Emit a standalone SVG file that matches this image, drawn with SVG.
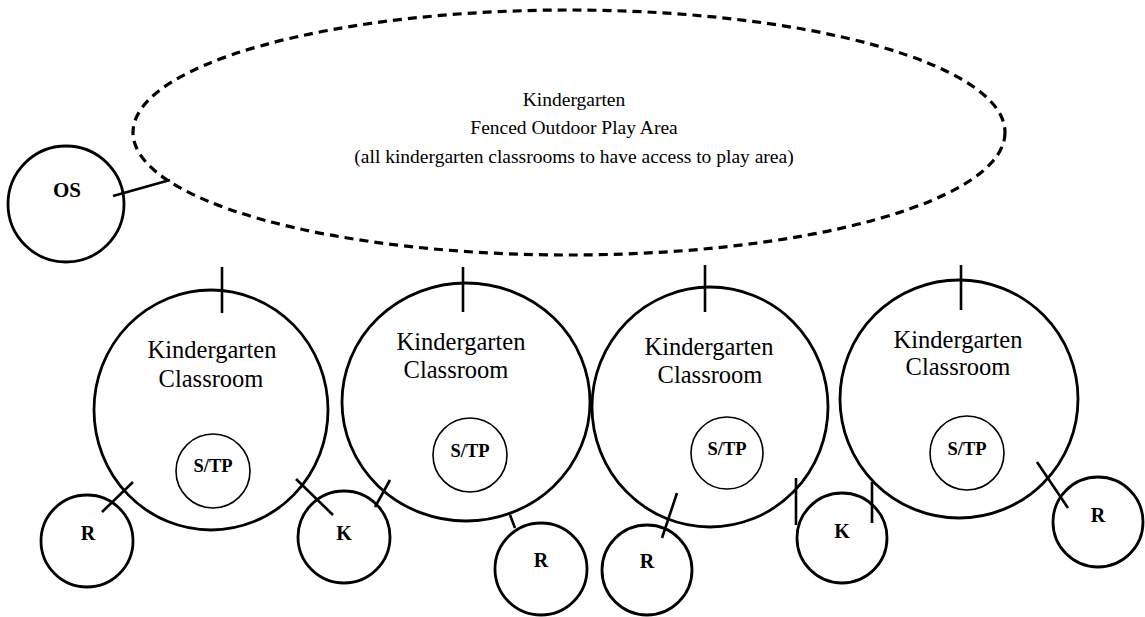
<svg xmlns="http://www.w3.org/2000/svg" width="1145" height="617" viewBox="0 0 1145 617">
<style>
.b{fill:none;stroke:#000;stroke-width:2.8}
.s{fill:none;stroke:#000;stroke-width:1.6}
.l{stroke:#000;stroke-width:2.6;fill:none}
.d{fill:none;stroke:#000;stroke-width:3.2;stroke-dasharray:9 6}
text{font-family:"Liberation Serif","Times New Roman",serif;fill:#000;text-anchor:middle}
.t{font-size:19.5px}
.c{font-size:24.5px}
.h{font-size:18.5px;font-weight:bold}
.k{font-size:20px;font-weight:bold}
.o{font-size:21px;font-weight:bold}
</style>
<rect width="1145" height="617" fill="#fff"/>
<g id="playarea">
<ellipse class="d" cx="569" cy="132.5" rx="436" ry="122.5"/>
<text class="t" x="574" y="106">Kindergarten</text>
<text class="t" x="574" y="134">Fenced Outdoor Play Area</text>
<text class="t" x="574" y="163">(all kindergarten classrooms to have access to play area)</text>
</g>
<g id="os"><circle class="b" cx="66" cy="204" r="58"/><text class="o" x="67" y="197">OS</text></g>
<g id="class1"><ellipse class="b" cx="211" cy="410" rx="117" ry="120"/><text class="c" x="212" y="358">Kindergarten</text><text class="c" x="211" y="387">Classroom</text></g>
<g id="stp1"><circle class="s" cx="213" cy="471" r="37"/><text class="h" x="213" y="472">S/TP</text></g>
<g id="class2"><ellipse class="b" cx="466" cy="402" rx="124" ry="119"/><text class="c" x="461" y="350">Kindergarten</text><text class="c" x="456" y="378">Classroom</text></g>
<g id="stp2"><circle class="s" cx="470" cy="455" r="37"/><text class="h" x="470" y="457">S/TP</text></g>
<g id="class3"><ellipse class="b" cx="710" cy="407" rx="118" ry="120"/><text class="c" x="709" y="355">Kindergarten</text><text class="c" x="710" y="383">Classroom</text></g>
<g id="stp3"><circle class="s" cx="727" cy="453" r="36"/><text class="h" x="727" y="455">S/TP</text></g>
<g id="class4"><ellipse class="b" cx="959" cy="399" rx="119" ry="119"/><text class="c" x="958" y="348">Kindergarten</text><text class="c" x="958" y="375">Classroom</text></g>
<g id="stp4"><circle class="s" cx="967" cy="453" r="37"/><text class="h" x="967" y="455">S/TP</text></g>
<g id="r1"><circle class="b" cx="87" cy="541" r="46"/><text class="k" x="88" y="540">R</text></g>
<g id="k1"><circle class="b" cx="344" cy="537" r="46"/><text class="k" x="344" y="540">K</text></g>
<g id="r2"><circle class="b" cx="541" cy="569" r="46"/><text class="k" x="541" y="567">R</text></g>
<g id="r3"><circle class="b" cx="647" cy="570" r="45"/><text class="k" x="647" y="568">R</text></g>
<g id="k2"><circle class="b" cx="842" cy="538" r="45"/><text class="k" x="842" y="538">K</text></g>
<g id="r4"><circle class="b" cx="1098" cy="522" r="45"/><text class="k" x="1098" y="522">R</text></g>
<g id="connectors">
<line class="l" x1="113" y1="196" x2="170" y2="180"/>
<line class="l" x1="222" y1="267" x2="222" y2="313"/>
<line class="l" x1="463" y1="267" x2="463" y2="312"/>
<line class="l" x1="705" y1="265" x2="705" y2="312"/>
<line class="l" x1="961" y1="265" x2="961" y2="310"/>
<line class="l" x1="133" y1="482" x2="102" y2="512"/>
<line class="l" x1="296" y1="479" x2="333" y2="515"/>
<line class="l" x1="390" y1="480" x2="375" y2="507"/>
<line class="l" x1="510" y1="515" x2="515" y2="528"/>
<line class="l" x1="677" y1="493" x2="662" y2="538"/>
<line class="l" x1="796" y1="478" x2="796" y2="525"/>
<line class="l" x1="872" y1="482" x2="872" y2="523"/>
<line class="l" x1="1037" y1="462" x2="1068" y2="508"/>
</g>
</svg>
